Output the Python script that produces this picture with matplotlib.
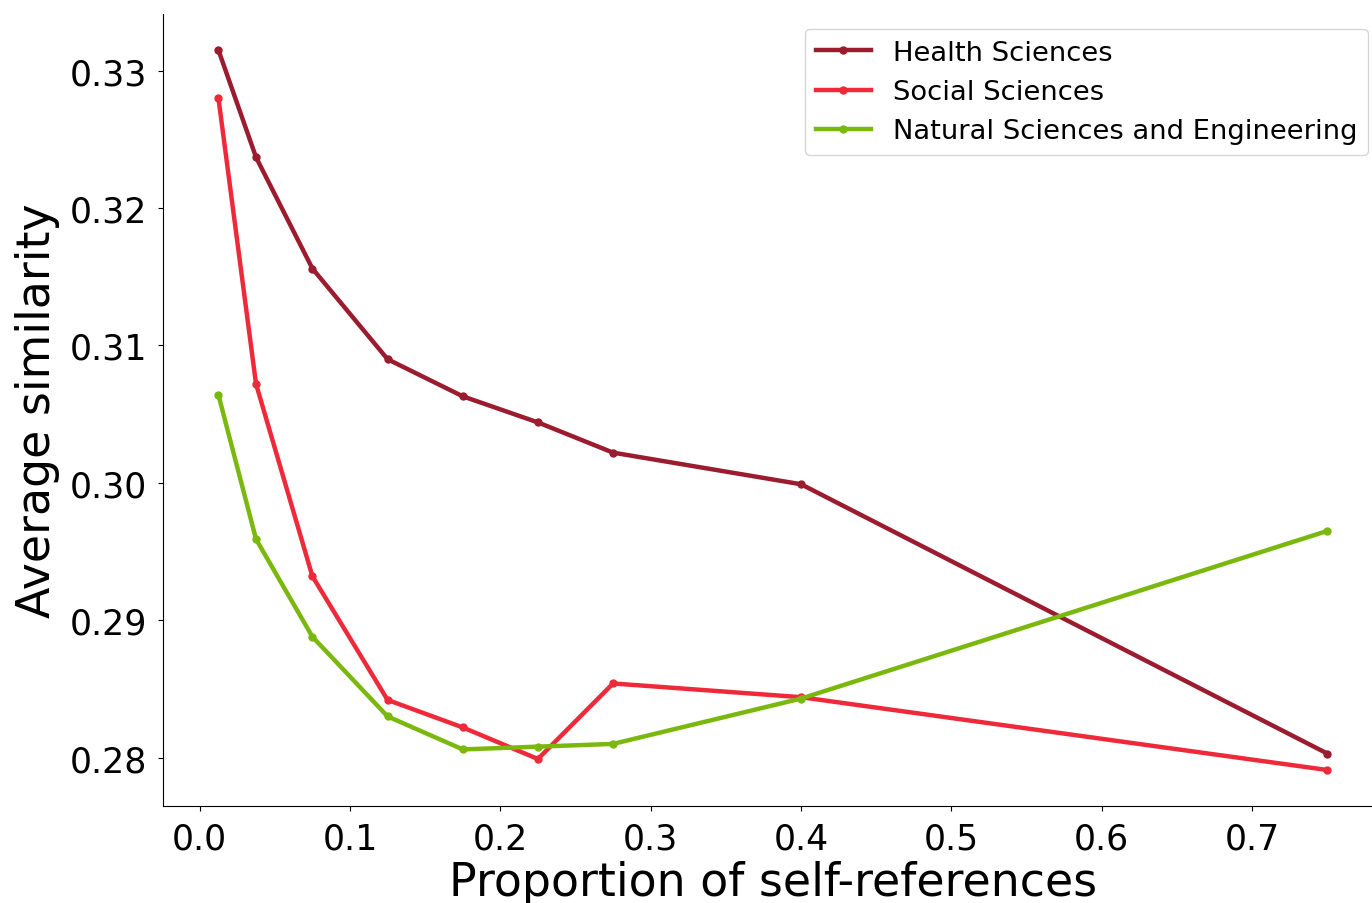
import matplotlib
matplotlib.use("Agg")
import matplotlib.pyplot as plt

# bin centres of the self-reference proportion
proportion = [0.0125, 0.0375, 0.075, 0.125, 0.175, 0.225, 0.275, 0.4, 0.75]

health = [0.3315, 0.3237, 0.3156, 0.3090, 0.3063, 0.3044, 0.3022, 0.2999, 0.2803]
social = [0.3280, 0.3072, 0.2932, 0.2842, 0.2822, 0.2799, 0.2854, 0.2844, 0.2791]
natural = [0.3064, 0.2959, 0.2888, 0.2830, 0.2806, 0.2808, 0.2810, 0.2843, 0.2965]

series = [
    ("Health Sciences", health, "#9b1b2f"),
    ("Social Sciences", social, "#ee2a3a"),
    ("Natural Sciences and Engineering", natural, "#7ab80e"),
]

fig = plt.figure(figsize=(13.72, 9.04), dpi=100)
ax = fig.add_axes([0.1188, 0.1073, 0.889, 0.876])

for name, vals, color in series:
    ax.plot(proportion, vals, color=color, linewidth=3.2, marker="o",
            markersize=5, label=name)

ax.spines["top"].set_visible(False)
ax.spines["right"].set_visible(False)
ax.set_xticks([0.0, 0.1, 0.2, 0.3, 0.4, 0.5, 0.6, 0.7])
ax.set_yticks([0.28, 0.29, 0.30, 0.31, 0.32, 0.33])
ax.tick_params(labelsize=25, pad=8)
ax.set_xlabel("Proportion of self-references", fontsize=33, labelpad=3)
ax.set_ylabel("Average similarity", fontsize=33, labelpad=7)

ax.legend(loc="upper right", fontsize=19.7, borderaxespad=0,
          labelspacing=0.48,
          bbox_to_anchor=(1368 / 1372, 1 - 30 / 904),
          bbox_transform=fig.transFigure)

fig.savefig("out.png")
